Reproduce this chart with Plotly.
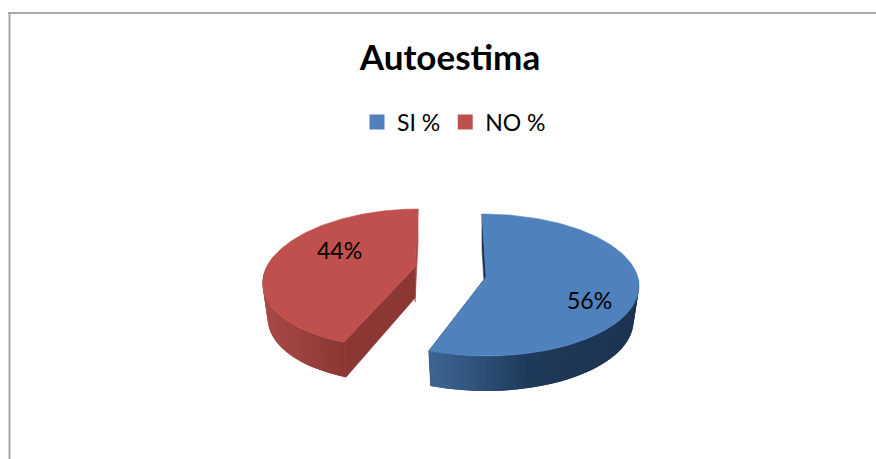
import numpy as np
import plotly.graph_objects as go

title = "Autoestima"
categories = ["SI %", "NO %"]
values = [56, 44]
colors = ["#4F81BD", "#C0504D"]

W, H = 876, 459
DEPTH = 35
SHRINK = 0.965
# centre x, centre y, half width, half height, skew, apex x, apex y
GEOM = [
    dict(c=484, cy=285, a=155, b=71, k=-2, ax=486, ay=277),
    dict(c=407, cy=278, a=144, b=69, k=11, ax=415, ay=267),
]
WALL = [
    dict(span=(80, None), stops=[(429, "#3E6693"), (480, "#2F5179"), (525, "#203A5B"), (640, "#1D3350")],
         inner="#1D3350", front="#1D3350"),
    dict(span=(None, 290), stops=[(265, "#AA4B48"), (346, "#8B3835")],
         inner="#A94A47", front="#8B3835"),
]
LABEL_POS = [(589, 300), (339, 250)]

total = sum(values)
ends = np.cumsum(values) / total * 360
starts = np.concatenate([[0], ends[:-1]])


def rim(g, deg):
    t = np.radians(deg)
    return g["c"] + g["a"] * np.sin(t) + g["k"] * np.cos(t), g["cy"] - g["b"] * np.cos(t)


def low(g, x, y):
    return g["c"] + (x - g["c"]) * SHRINK, y + DEPTH


def rgb(h):
    return np.array([int(h[i:i + 2], 16) for i in (1, 3, 5)], float)


def shade(stops, x):
    xs = [s[0] for s in stops]
    cs = np.array([rgb(s[1]) for s in stops])
    return "rgb(%d,%d,%d)" % tuple(np.interp(x, xs, cs[:, i]) for i in range(3))


def poly(xs, ys, color, lw=0.6):
    return go.Scatter(x=list(xs) + [xs[0]], y=list(ys) + [ys[0]], mode="lines", fill="toself",
                      fillcolor=color, line=dict(color=color, width=lw),
                      showlegend=False, hoverinfo="skip")


fig = go.Figure()

for i in (1, 0):
    g, w = GEOM[i], WALL[i]
    s, e = starts[i], ends[i]
    r0x, r0y = rim(g, s)
    r1x, r1y = rim(g, e)
    # end wall at the 0-degree edge
    ex, ey = (r0x, r0y) if i == 0 else (r1x, r1y)
    fig.add_trace(poly([ex, ex, g["ax"], g["ax"]], [ey, ey + DEPTH, g["ay"] + DEPTH, g["ay"]], w["inner"]))
    # straight wall along the other edge
    tx, ty = (r1x, r1y) if i == 0 else (r0x, r0y)
    bx, by = low(g, tx, ty)
    fig.add_trace(poly([g["ax"], tx, bx, g["ax"]], [g["ay"], ty, by, g["ay"] + DEPTH - 4], w["front"]))
    # curved outer wall, in overlapping strips so no seams show
    a0 = w["span"][0] if w["span"][0] is not None else s
    a1 = w["span"][1] if w["span"][1] is not None else e
    a1 = min(a1, e)
    edges = np.linspace(a0, a1, 41)
    seq = range(40) if i == 0 else range(39, -1, -1)
    for n in seq:
        lo = edges[n] if i == 0 else edges[max(n - 1, 0)]
        hi = edges[min(n + 2, 40)] if i == 0 else edges[n + 1]
        ds = np.linspace(lo, hi, 5)
        xt, yt = rim(g, ds)
        xb, yb = low(g, xt, yt)
        mid = rim(g, np.array([(edges[n] + edges[n + 1]) / 2]))
        col = shade(w["stops"], low(g, mid[0], mid[1])[0][0])
        fig.add_trace(poly(list(xt) + list(xb[::-1]), list(yt) + list(yb[::-1]), col, lw=0))
    # top face
    ds = np.linspace(s, e, 160)
    xt, yt = rim(g, ds)
    fig.add_trace(poly([g["ax"]] + list(xt), [g["ay"]] + list(yt), colors[i]))

for name, col in zip(categories, colors):
    fig.add_trace(go.Scatter(x=[None], y=[None], mode="markers", name=name,
                             marker=dict(symbol="square", size=15, color=col)))

for v, (x, y) in zip(values, LABEL_POS):
    fig.add_annotation(x=x, y=y, text=f"{v}%", showarrow=False,
                       font=dict(family="Lato", size=23, color="#000000"))

fig.update_layout(
    width=W, height=H, margin=dict(l=0, r=0, t=0, b=0),
    paper_bgcolor="white", plot_bgcolor="white",
    title=dict(text=f"<b>{title}</b>", x=450 / W, xanchor="center", y=1 - 58 / H, yanchor="middle",
               font=dict(family="Lato", size=35, color="#000000")),
    legend=dict(orientation="h", x=357 / W, xanchor="left", y=1 - 122 / H, yanchor="middle",
                font=dict(family="Lato", size=23, color="#000000"),
                bgcolor="rgba(0,0,0,0)", tracegroupgap=0),
    xaxis=dict(visible=False, range=[0, W], domain=[0, 1], fixedrange=True),
    yaxis=dict(visible=False, range=[H, 0], domain=[0, 1], fixedrange=True),
    shapes=[
        dict(type="line", x0=8, x1=W, y0=13, y1=13, line=dict(color="#8C8C8C", width=1.5)),
        dict(type="line", x0=9.5, x1=9.5, y0=13, y1=H, line=dict(color="#A6A6A6", width=2)),
    ],
)

fig.write_html("out.html", config={"displayModeBar": False},
               post_script="document.body.style.margin='0';document.body.style.overflow='hidden';")
